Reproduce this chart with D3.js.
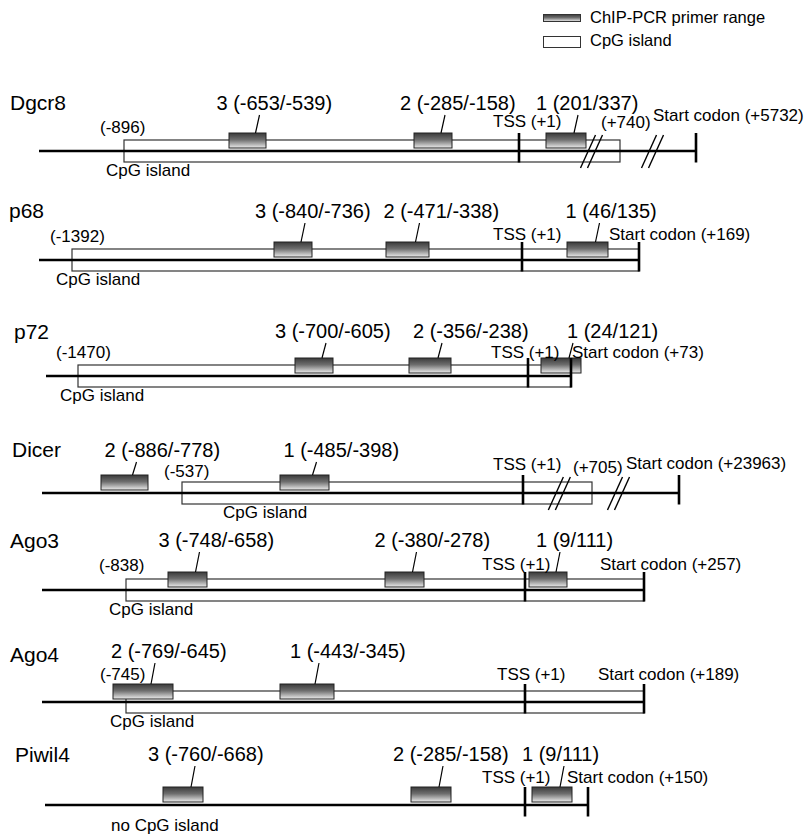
<!DOCTYPE html>
<html><head><meta charset="utf-8">
<script src="https://cdn.jsdelivr.net/npm/d3@7"></script>
<style>
body{margin:0;background:#fff}
text{font-family:"Liberation Sans",Arial,Helvetica,sans-serif;fill:#000}
</style>
</head><body>
<svg id="chart" width="811" height="837"></svg>
<script>
// ---------------- DATA ----------------
const genes       = ["Dgcr8","p68","p72","Dicer","Ago3","Ago4","Piwil4"];
const cpgStart    = [-896,-1392,-1470,-537,-838,-745,null];
const cpgEnd      = [740,169,73,705,257,189,null];
const cpgEndShown = [true,false,false,true,false,false,false];
const cpgNote     = ["CpG island","CpG island","CpG island","CpG island","CpG island","CpG island","no CpG island"];
const tssPos      = 1;
const startCodon  = [5732,169,73,23963,257,189,150];
const primerIds   = [[3,2,1],[3,2,1],[3,2,1],[2,1],[3,2,1],[2,1],[3,2,1]];
const primerStart = [[-653,-285,201],[-840,-471,46],[-700,-356,24],[-886,-485],[-748,-380,9],[-769,-443],[-760,-285,9]];
const primerEnd   = [[-539,-158,337],[-736,-338,135],[-605,-238,121],[-778,-398],[-658,-278,111],[-645,-345],[-668,-158,111]];
const legendItems = ["ChIP-PCR primer range","CpG island"];

// ---------------- LAYOUT (schematic, not drawn to scale) ----------------
// piecewise schematic scale anchors: [bp, px]
const schematic = [
  [[-896,124],[-653,229],[-539,266],[-285,414],[-158,452],[1,519],[201,546],[337,586],[740,620],[5732,696]],
  [[-1392,72],[-840,274],[-736,312],[-471,386],[-338,429],[1,522],[46,567],[135,608],[169,639]],
  [[-1470,78],[-700,295],[-605,333],[-356,409],[-238,451],[1,528],[24,541],[73,571],[121,581]],
  [[-886,101],[-778,148],[-537,182],[-485,280],[-398,329],[1,523],[705,592],[23963,679]],
  [[-838,126],[-748,168],[-658,207],[-380,385],[-278,424],[1,525],[9,529],[111,567],[257,644]],
  [[-769,113],[-745,126],[-645,173],[-443,280],[-345,334],[1,525],[189,644]],
  [[-760,163],[-668,203],[-285,411],[-158,451],[1,525],[9,532],[111,572],[150,588]]
];
const breaksBp     = [[408,2908],[],[],[377,7923],[],[],[]];
const rowY         = [151,260,376,493,590,702,805];
const lineStartX   = [39,39,46,42,42,42,45];
const geneLabelX   = [10,9,14,12,10,10,15];
const geneDy       = [-41,-42,-37,-36,-42,-40,-43];
const labelDy      = [-41,-42,-38,-36,-43,-44,-44];
const primerLabelDx= [[-31,-33,-30],[-38,-24,-22],[-39,-17,6],[-20,-21],[-29,-30,-12],[-32,-17],[-35,-38,-30]];
const tssLabel     = [[-26,-24],[-29,-20],[-37,-18],[-30,-23],[-43,-20],[-28,-22],[-43,-22]];
const codonLabel   = [[-43,-30],[-30,-20],[1,-18],[-53,-24],[-44,-20],[-46,-22],[-21,-22]];
const cpgEndLabel  = [[-19,-23],null,null,[-19,-20],null,null,null];
const cpgStartLbl  = [[-24,-18],[-22,-18],[-22,-18],[-18,-16],[-27,-19],[-26,-22],null];
const cpgNoteDx    = [-18,-16,-18,41,-17,-16,null];

const svg = d3.select("#chart");
const defs = svg.append("defs");
const grad = defs.append("linearGradient").attr("id","pg").attr("x1",0).attr("y1",0).attr("x2",0).attr("y2",1);
grad.append("stop").attr("offset","0%").attr("stop-color","#3a3a3a");
grad.append("stop").attr("offset","45%").attr("stop-color","#6e6e6e");
grad.append("stop").attr("offset","100%").attr("stop-color","#ececec");

const FS_GENE = 21, FS_PRIMER = 20, FS_SMALL = 17;

// legend
const lg = svg.append("g");
lg.append("rect").attr("x",543.5).attr("y",14.5).attr("width",37).attr("height",7)
  .attr("fill","url(#pg)").attr("stroke","#333").attr("stroke-width",1);
lg.append("text").attr("x",590).attr("y",23).attr("font-size",16.5).text(legendItems[0]);
lg.append("rect").attr("x",543.5).attr("y",36.5).attr("width",37).attr("height",11)
  .attr("fill","#fff").attr("stroke","#333").attr("stroke-width",1);
lg.append("text").attr("x",590).attr("y",46).attr("font-size",16.5).text(legendItems[1]);

genes.forEach((gene,i)=>{
  const anchors = schematic[i];
  const x = d3.scaleLinear().domain(anchors.map(a=>a[0])).range(anchors.map(a=>a[1]));
  const Y = rowY[i];
  const g = svg.append("g");

  // CpG island box
  if (cpgStart[i] !== null) {
    g.append("rect").attr("x",x(cpgStart[i])).attr("y",Y-11)
      .attr("width",x(cpgEnd[i])-x(cpgStart[i])).attr("height",22)
      .attr("fill","#fff").attr("stroke","#333").attr("stroke-width",1.2);
  }
  // main line
  g.append("line").attr("x1",lineStartX[i]).attr("x2",x(startCodon[i]))
    .attr("y1",Y).attr("y2",Y).attr("stroke","#000").attr("stroke-width",2.6);

  // primers
  primerIds[i].forEach((id,j)=>{
    const x0 = x(primerStart[i][j]), x1 = x(primerEnd[i][j]);
    g.append("rect").attr("x",x0).attr("y",Y-18).attr("width",x1-x0).attr("height",15)
      .attr("fill","url(#pg)").attr("stroke","#222").attr("stroke-width",1);
    const cx = (x0+x1)/2 + 8;
    const ly = Y + labelDy[i];
    g.append("line").attr("x1",cx).attr("y1",Y-18).attr("x2",cx+4).attr("y2",ly+5)
      .attr("stroke","#000").attr("stroke-width",1.2);
    g.append("text").attr("x",(x0+x1)/2 + primerLabelDx[i][j]).attr("y",ly)
      .attr("font-size",FS_PRIMER)
      .text(`${id} (${primerStart[i][j]}/${primerEnd[i][j]})`);
  });

  // TSS and start codon ticks
  [tssPos, startCodon[i]].forEach(p=>{
    g.append("line").attr("x1",x(p)).attr("x2",x(p)).attr("y1",Y-18).attr("y2",Y+11.5)
      .attr("stroke","#000").attr("stroke-width",2.6);
  });

  // axis breaks
  breaksBp[i].forEach(b=>{
    const bx = x(b);
    [-3.5,3.5].forEach(o=>{
      g.append("line").attr("x1",bx-8+o).attr("y1",Y+17).attr("x2",bx+7+o).attr("y2",Y-16)
        .attr("stroke","#000").attr("stroke-width",1.4);
    });
  });

  // gene name
  g.append("text").attr("x",geneLabelX[i]).attr("y",Y+geneDy[i]).attr("font-size",FS_GENE).text(gene);

  // CpG labels
  if (cpgStart[i] !== null) {
    const s = cpgStartLbl[i];
    g.append("text").attr("x",x(cpgStart[i])+s[0]).attr("y",Y+s[1]).attr("font-size",FS_SMALL)
      .text(`(${cpgStart[i]})`);
    g.append("text").attr("x",x(cpgStart[i])+cpgNoteDx[i]).attr("y",Y+25).attr("font-size",FS_SMALL)
      .text(cpgNote[i]);
    if (cpgEndShown[i]) {
      const e = cpgEndLabel[i];
      g.append("text").attr("x",x(cpgEnd[i])+e[0]).attr("y",Y+e[1]).attr("font-size",FS_SMALL)
        .text(`(+${cpgEnd[i]})`);
    }
  } else {
    g.append("text").attr("x",lineStartX[i]+66).attr("y",Y+26).attr("font-size",FS_SMALL).text(cpgNote[i]);
  }

  // TSS & start codon labels
  g.append("text").attr("x",x(tssPos)+tssLabel[i][0]).attr("y",Y+tssLabel[i][1])
    .attr("font-size",FS_SMALL).text(`TSS (+${tssPos})`);
  g.append("text").attr("x",x(startCodon[i])+codonLabel[i][0]).attr("y",Y+codonLabel[i][1])
    .attr("font-size",FS_SMALL).text(`Start codon (+${startCodon[i]})`);
});
</script>
</body></html>
